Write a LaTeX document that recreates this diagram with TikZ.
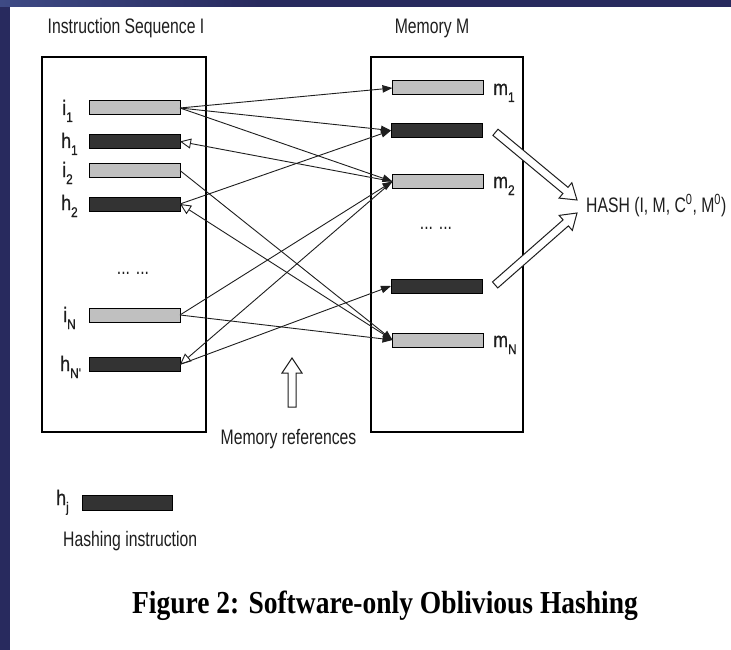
\documentclass[tikz,border=0pt]{standalone}
\usepackage{fontspec}
\setmainfont{Liberation Sans}
\newfontfamily\lab[FakeStretch=0.75]{Liberation Sans}
\newfontfamily\labb[FakeStretch=0.85,FakeBold=0.6]{Liberation Sans}
\newfontfamily\capf[FakeStretch=0.86]{Liberation Serif}
\usetikzlibrary{arrows.meta}
\definecolor{navy}{HTML}{282A5E}
\definecolor{navylight}{HTML}{3E4A85}
\definecolor{lightbar}{HTML}{C0C0C0}
\definecolor{darkbar}{HTML}{333333}
\definecolor{ink}{HTML}{1E1E1E}
\newcommand\subt[1]{\raisebox{-7pt}{\fontsize{14}{14}\selectfont #1}}
\newcommand\hollowarrow[3]{%
  \begin{scope}[shift={#1}, rotate=#2]
    \draw[hollowst] (0,0) -- (-15,-10) -- (-15,-4) -- (-#3,-4) -- (-#3,4) -- (-15,4) -- (-15,10) -- cycle;
  \end{scope}}
\begin{document}
\begin{tikzpicture}[x=1pt,y=-1pt,
  lbar/.style={draw=black, line width=1pt, fill=lightbar, minimum width=91pt, minimum height=14pt, inner sep=0pt, outer sep=0pt},
  dbar/.style={lbar, fill=darkbar},
  panel/.style={draw=black, line width=1.1pt, inner sep=0pt, outer sep=0pt},
  conn/.style={line width=0.9pt, draw=ink, -{Triangle[length=10pt,width=7.5pt]}},
  back/.style={line width=0.9pt, draw=ink, -{Triangle[open,length=11pt,width=10pt]}},
  txt/.style={font=\lab\fontsize{21}{24}\selectfont, text=ink, inner sep=0pt},
  lbl/.style={font=\labb\fontsize{21}{24}\selectfont, text=ink, inner sep=0pt, anchor=base west},
  hollowst/.style={draw=ink, line width=1pt, fill=white, line join=miter},
]
\useasboundingbox (0,0) rectangle (731,650);
\fill[navy] (0,0) rectangle (731,650);
\shade[left color=navylight, right color=navy] (0,0) rectangle (260,7);
\fill[white] (10,7) rectangle (731,650);

% titles
\node[txt, anchor=base] (t1) at (126,34) {Instruction Sequence I};
\node[txt, anchor=base] (t2) at (432,34) {Memory M};

% panels
\node[panel, minimum width=164pt, minimum height=375pt] (seqbox) at (124,244.5) {};
\node[panel, minimum width=152pt, minimum height=375pt] (membox) at (447,244.5) {};

% instruction bars
\node[lbar] (i1) at (134.5,108) {};
\node[dbar] (h1) at (134.5,141.5) {};
\node[lbar] (i2) at (134.5,170.5) {};
\node[dbar] (h2) at (134.5,204) {};
\node[lbar] (iN) at (134.5,315) {};
\node[dbar] (hN) at (134.5,364.5) {};

\node[lbl] (li1) at (62,115) {i\subt{1}};
\node[lbl] (lh1) at (61,148) {h\subt{1}};
\node[lbl] (li2) at (62,177) {i\subt{2}};
\node[lbl] (lh2) at (61,210) {h\subt{2}};
\node[lbl] (liN) at (63,322) {i\subt{N}};
\node[lbl] (lhN) at (60,371) {h\subt{N'}};
\node[txt, anchor=base] (dotsL) at (133,274) {... ...};

% memory bars
\node[lbar] (m1) at (438,88) {};
\node[dbar] (d1) at (436.5,130.5) {};
\node[lbar] (m2) at (438,181.5) {};
\node[dbar] (d2) at (436.5,286) {};
\node[lbar] (mN) at (438,340) {};

\node[lbl] (lm1) at (493,95) {m\subt{1}};
\node[lbl] (lm2) at (493,188) {m\subt{2}};
\node[lbl] (lmN) at (493,347) {m\subt{N}};
\node[txt, anchor=base] (dotsR) at (436,229) {... ...};

% memory references
\draw[conn] (i1.east) -- (m1.west);
\draw[conn] (i1.east) -- (d1.west);
\draw[conn] (i1.east) -- (m2.west);
\draw[back] (m2.west) -- (h1.east);
\draw[conn] (i2.east) -- (mN.west);
\draw[conn] (h2.east) -- (d1.west);
\draw[back] (mN.west) -- (h2.east);
\draw[conn] (iN.east) -- (m2.west);
\draw[conn] (iN.east) -- (mN.west);
\draw[back] (m2.west) -- (hN.east);
\draw[conn] (hN.east) -- (d2.west);

% hash
\node[txt, anchor=base west] (hash) at (586,212) {HASH (I, M, C\textsuperscript{0}, M\textsuperscript{0})};
\coordinate (hashA) at (577,200);
\coordinate (hashB) at (577,213);
\hollowarrow{(hashA)}{-39.7}{106}
\hollowarrow{(hashB)}{41.3}{109}

% memory references label
\coordinate (mrtip) at (292,358);
\hollowarrow{(mrtip)}{90}{49}
\node[txt, anchor=base] (mref) at (288.5,444) {Memory references};

% legend
\node[lbl] (lhj) at (56,505) {h\subt{j}};
\node[dbar, minimum width=90pt, minimum height=15pt] (legbar) at (127,503) {};
\node[txt, anchor=base west] (legtxt) at (63,546) {Hashing instruction};

% caption
\node[inner sep=0pt, anchor=base, font=\capf\bfseries\fontsize{32}{36}\selectfont] (cap) at (385,613) {Figure 2: Software-only Oblivious Hashing};
\end{tikzpicture}
\end{document}
